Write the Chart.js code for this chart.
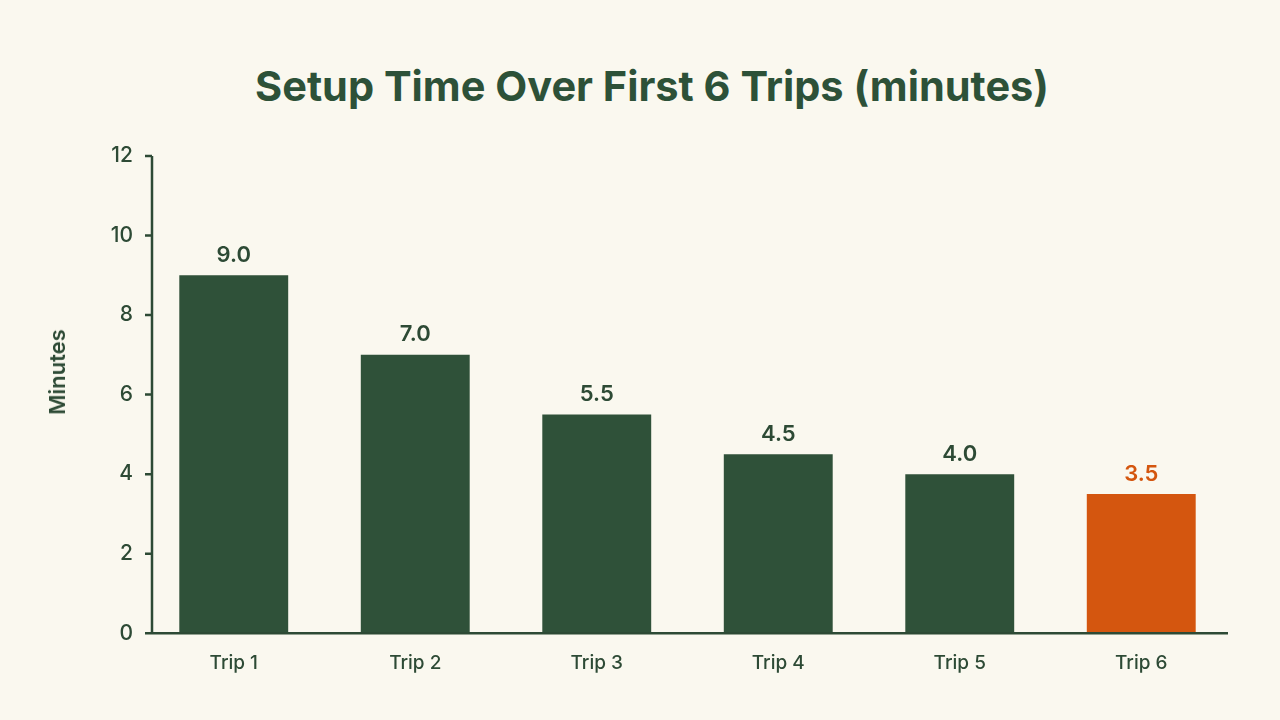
<!DOCTYPE html>
<html>
<head>
<meta charset="utf-8">
<title>Setup Time Over First 6 Trips</title>
<script src="https://cdn.jsdelivr.net/npm/chart.js@4.4.1/dist/chart.umd.min.js"></script>
<style>
  html, body {
    margin: 0;
    padding: 0;
    background: #faf8ef;
  }
  .wrap {
    position: relative;
    width: 1280px;
    height: 720px;
  }
  h1 {
    position: absolute;
    top: 58px;
    left: 24px;
    width: 1256px;
    margin: 0;
    text-align: center;
    font-family: Inter, "Noto Sans", sans-serif;
    font-weight: 700;
    font-size: 41.5px;
    line-height: 56px;
    color: #2d5138;
  }
  .y-title {
    position: absolute;
    left: 57px;
    top: 372px;
    transform: translate(-50%, -50%) rotate(-90deg);
    font-family: Inter, "Noto Sans", sans-serif;
    font-weight: 600;
    font-size: 22px;
    line-height: 26px;
    color: #2d4a35;
    white-space: nowrap;
  }
  canvas {
    position: absolute;
    left: 0;
    top: 0;
  }
</style>
</head>
<body>
<div class="wrap">
  <h1>Setup Time Over First 6 Trips (minutes)</h1>
  <canvas id="chart" width="1280" height="720"></canvas>
  <div class="y-title">Minutes</div>
</div>
<script>
// Chart data
const trips = ['Trip 1', 'Trip 2', 'Trip 3', 'Trip 4', 'Trip 5', 'Trip 6'];
const setupMinutes = [9.0, 7.0, 5.5, 4.5, 4.0, 3.5];
const yTicks = [0, 2, 4, 6, 8, 10, 12];

const GREEN = '#2f5139';
const TEXT = '#2d4a35';
const ORANGE = '#d4560f';

// last trip is highlighted
const barColors = trips.map((t, i) => i === trips.length - 1 ? ORANGE : GREEN);

// Draws the axis lines with small tick marks on the y axis
const axisLines = {
    id: 'axisLines',
    afterDraw(chart) {
        const ctx = chart.ctx;
        const area = chart.chartArea;
        const y = chart.scales.y;
        const axisX = area.left + 9;
        ctx.save();
        ctx.strokeStyle = TEXT;
        ctx.lineWidth = 2.5;
        ctx.beginPath();
        ctx.moveTo(axisX, y.getPixelForValue(12));
        ctx.lineTo(axisX, y.getPixelForValue(0));
        yTicks.forEach(v => {
            const py = y.getPixelForValue(v);
            ctx.moveTo(axisX - 7, py);
            ctx.lineTo(axisX, py);
        });
        ctx.moveTo(axisX - 7, y.getPixelForValue(0));
        ctx.lineTo(area.right - 4, y.getPixelForValue(0));
        ctx.stroke();
        ctx.restore();
    }
};

// Value labels above each bar
const valueLabels = {
    id: 'valueLabels',
    afterDatasetsDraw(chart) {
        const ctx = chart.ctx;
        const meta = chart.getDatasetMeta(0);
        ctx.save();
        ctx.font = '600 22px Inter, "Noto Sans", sans-serif';
        ctx.textAlign = 'center';
        ctx.textBaseline = 'middle';
        meta.data.forEach((bar, i) => {
            ctx.fillStyle = i === trips.length - 1 ? ORANGE : TEXT;
            ctx.fillText(setupMinutes[i].toFixed(1), bar.x, bar.y - 20);
        });
        ctx.restore();
    }
};

const ctx = document.getElementById('chart').getContext('2d');
new Chart(ctx, {
    type: 'bar',
    data: {
        labels: trips,
        datasets: [{
            label: 'Setup time',
            data: setupMinutes,
            backgroundColor: barColors,
            borderWidth: 0,
            barPercentage: 0.6,
            categoryPercentage: 1
        }]
    },
    options: {
        responsive: false,
        animation: false,
        layout: {
            padding: { top: 156, left: 30, right: 48, bottom: 34 }
        },
        plugins: {
            legend: { display: false },
            title: { display: false },
            tooltip: { enabled: false }
        },
        scales: {
            x: {
                grid: { display: false },
                border: { display: false },
                ticks: {
                    padding: 11,
                    color: TEXT,
                    font: { family: 'Inter, "Noto Sans", sans-serif', size: 19, weight: '500' }
                }
            },
            y: {
                min: 0,
                max: 12,
                afterFit(scale) {
                    scale.width = 113;
                },
                afterBuildTicks(scale) {
                    scale.ticks = yTicks.map(v => ({ value: v }));
                },
                grid: { display: false },
                border: { display: false },
                ticks: {
                    padding: 2,
                    color: TEXT,
                    font: { family: 'Inter, "Noto Sans", sans-serif', size: 21, weight: '500' }
                }
            }
        }
    },
    plugins: [axisLines, valueLabels]
});
</script>
</body>
</html>
